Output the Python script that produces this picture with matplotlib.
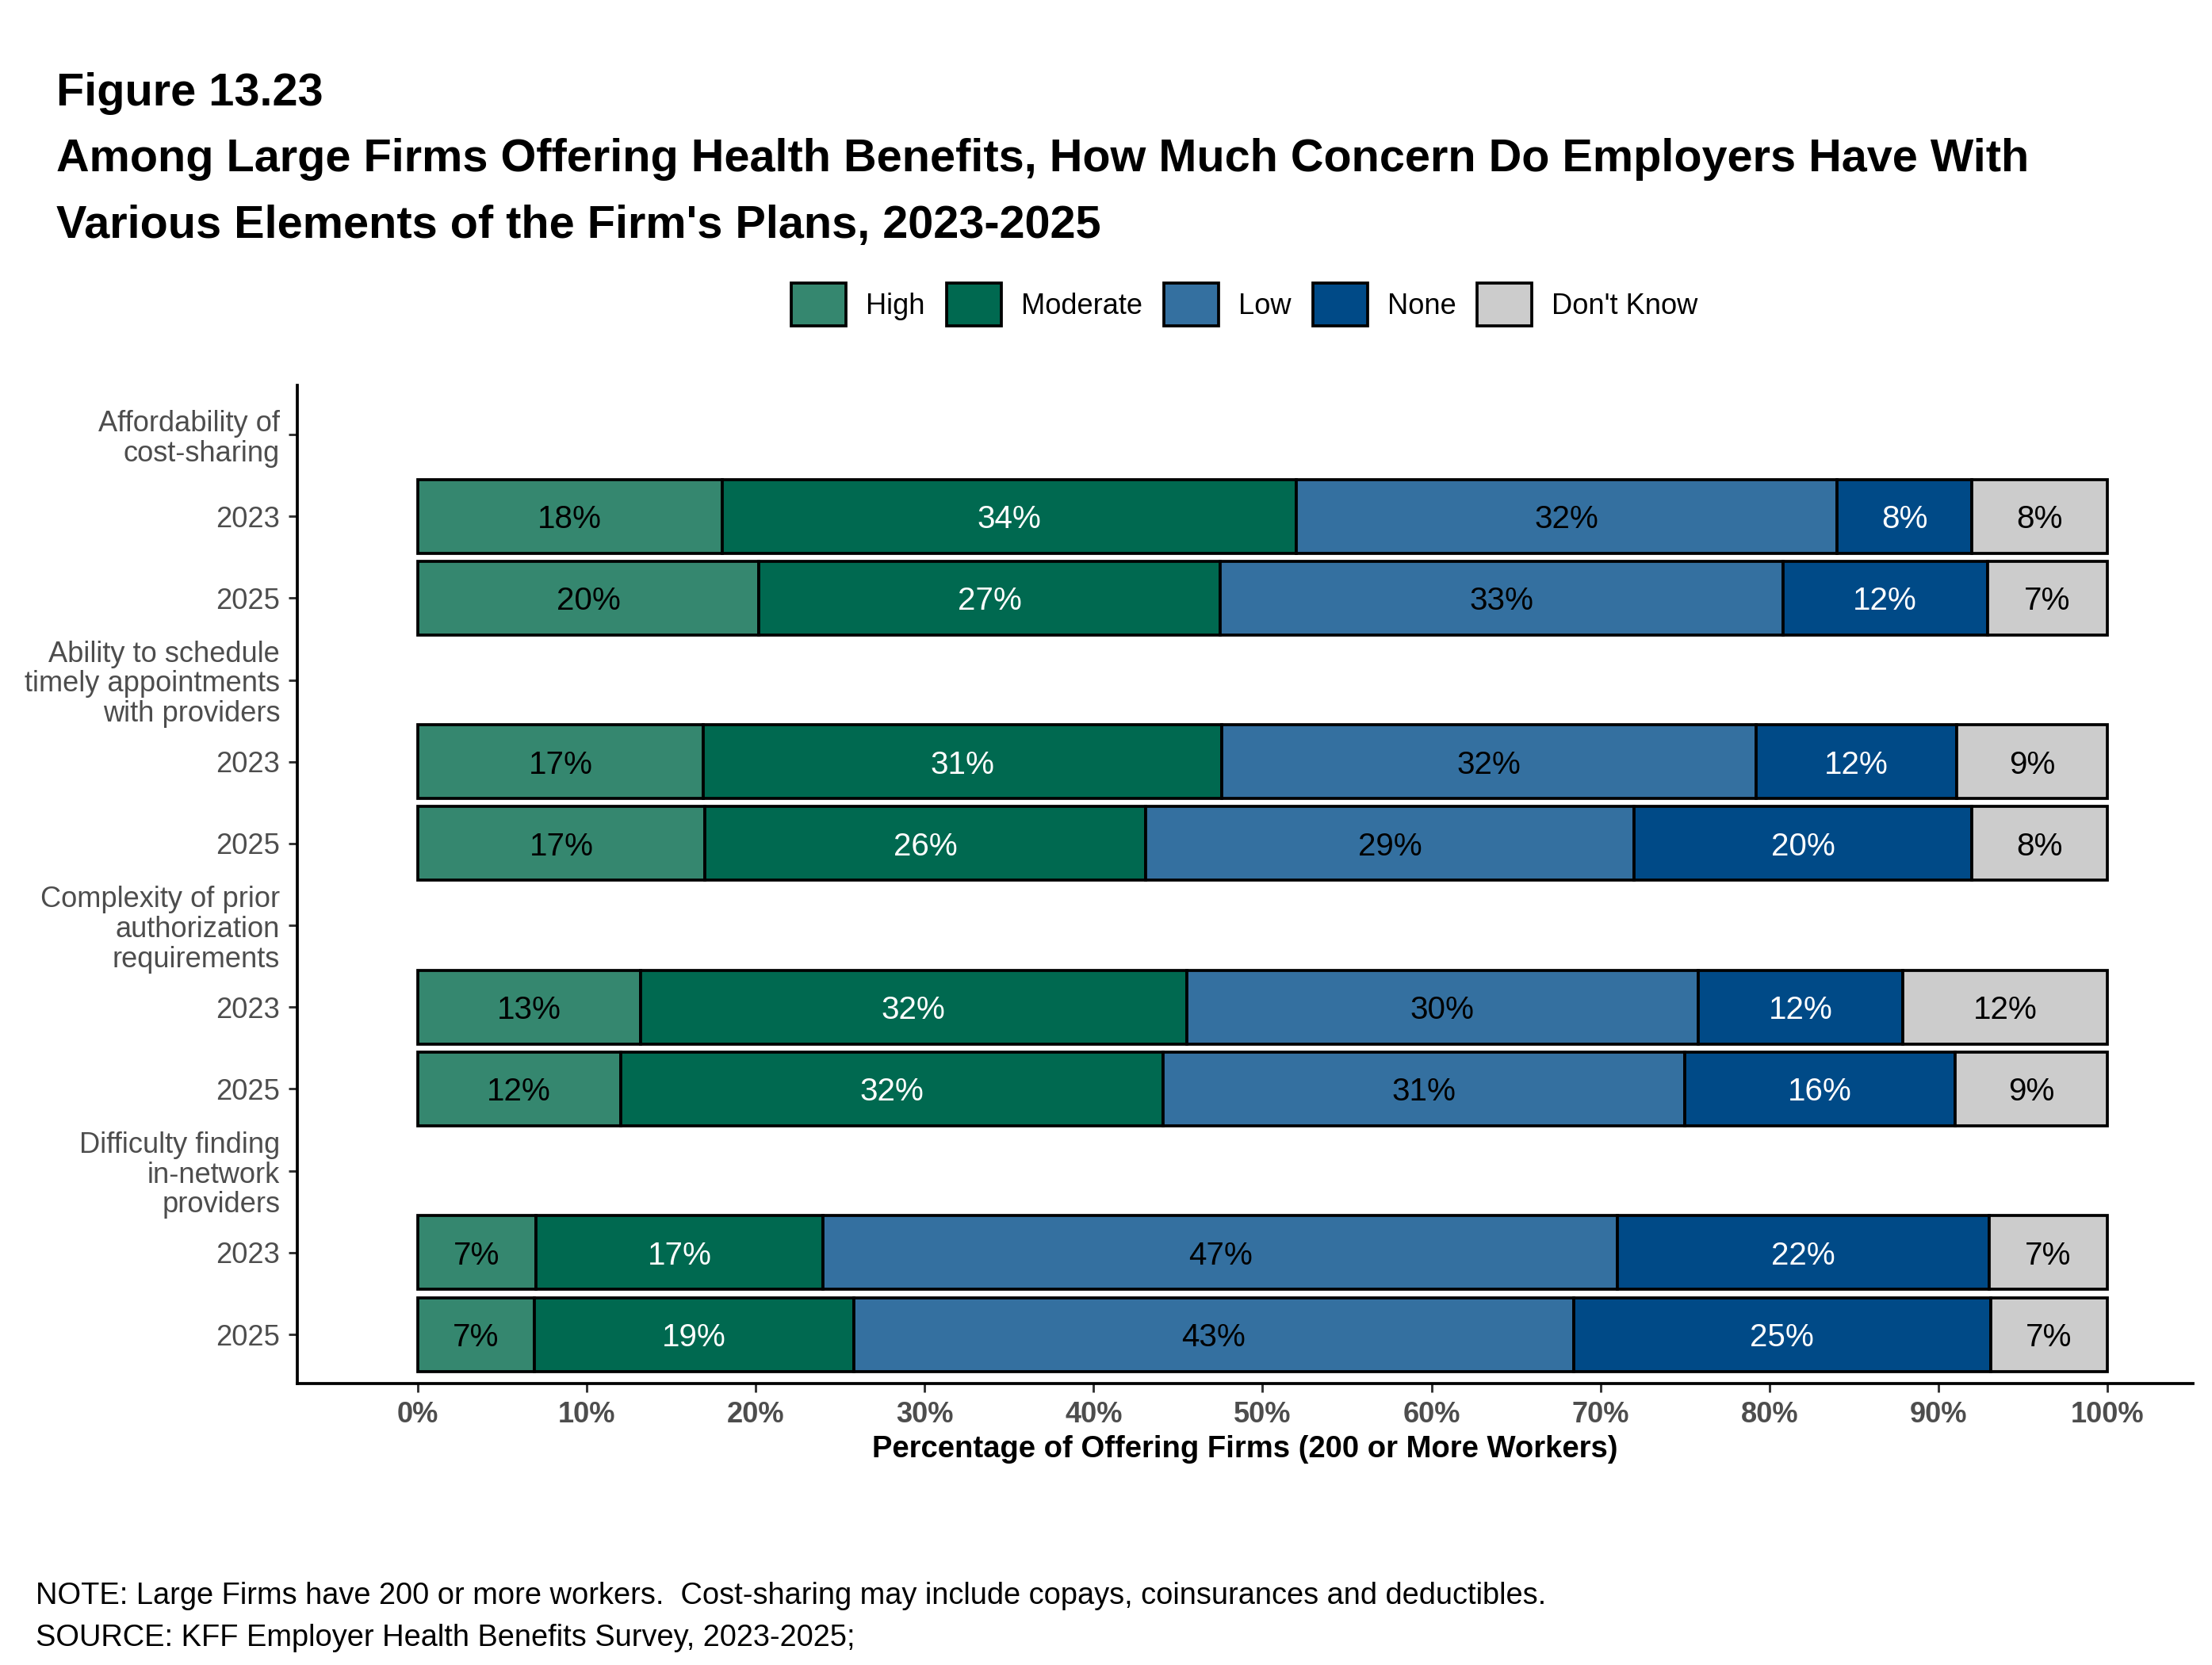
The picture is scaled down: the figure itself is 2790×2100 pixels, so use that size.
import matplotlib
matplotlib.use("Agg")
import matplotlib.pyplot as plt
from matplotlib.patches import Patch
import numpy as np

plt.rcParams['font.family'] = ['Liberation Sans', 'DejaVu Sans']

# Daten
groups = ["Affordability of\ncost-sharing",
          "Ability to schedule\ntimely appointments\nwith providers",
          "Complexity of prior\nauthorization\nrequirements",
          "Difficulty finding\nin-network\nproviders"]
years = ["2023", "2025"]
levels = ["High", "Moderate", "Low", "None", "Don't Know"]
colors = ["#35876F", "#006950", "#3470A0", "#004A87", "#CCCCCC"]
text_colors = ["black", "white", "black", "white", "black"]

high = [18.0, 20.2, 16.9, 17.0, 13.2, 12.0, 7.0, 6.9]
moderate = [34.0, 27.3, 30.7, 26.1, 32.3, 32.1, 17.0, 18.9]
low = [32.0, 33.3, 31.6, 28.9, 30.3, 30.9, 47.0, 42.6]
none = [8.0, 12.1, 11.9, 20.0, 12.1, 16.0, 22.0, 24.7]
dont_know = [8.0, 7.1, 8.9, 8.0, 12.1, 9.0, 7.0, 6.9]
labels = [[18, 20, 17, 17, 13, 12, 7, 7],
          [34, 27, 31, 26, 32, 32, 17, 19],
          [32, 33, 32, 29, 30, 31, 47, 43],
          [8, 12, 12, 20, 12, 16, 22, 25],
          [8, 7, 9, 8, 12, 9, 7, 7]]
series = [high, moderate, low, none, dont_know]

# Positionen: Gruppenzeile + 2 Jahre
tick_pos, tick_lab, bar_pos = [], [], []
p = 0
for g in groups:
    tick_pos.append(p); tick_lab.append(g)
    for yr in years:
        p += 1
        tick_pos.append(p); tick_lab.append(yr)
        bar_pos.append(p)
    p += 1

W, H = 2790, 2100
fig = plt.figure(figsize=(W / 300, H / 300), dpi=300)
ax = fig.add_axes([375 / W, 1 - 1745 / H, (2766 - 375) / W, (1745 - 486) / H])

left = np.zeros(len(bar_pos))
for vals, col, tc, lab in zip(series, colors, text_colors, labels):
    ax.barh(bar_pos, vals, left=left, height=0.9, color=col, edgecolor="black", linewidth=0.9)
    for y, v, l0, t in zip(bar_pos, vals, left, lab):
        ax.text(l0 + v / 2, y, f"{t}%", ha="center", va="center_baseline", color=tc, fontsize=9.7)
    left = left + np.array(vals)

ax.set_xlim(-7.13, 105.07)
ax.set_ylim(11.6, -0.6)
ax.set_xticks(np.arange(0, 101, 10))
ax.set_xticklabels([f"{v}%" for v in range(0, 101, 10)], fontweight="bold", color="#4D4D4D", fontsize=8.7)
ax.set_yticks(tick_pos)
ax.set_yticklabels(tick_lab, color="#4D4D4D", fontsize=8.7, linespacing=1.1)
ax.tick_params(axis="both", length=2.75, width=0.7, color="#333333", pad=2.5)
for s in ["top", "right"]:
    ax.spines[s].set_visible(False)
for s in ["left", "bottom"]:
    ax.spines[s].set_linewidth(0.9)
ax.set_xlabel("Percentage of Offering Firms (200 or More Workers)", fontweight="bold", fontsize=9.2, labelpad=2)

handles = [Patch(facecolor=c, edgecolor="black", linewidth=0.9) for c in colors]
fig.legend(handles, levels, loc="center", bbox_to_anchor=(1570 / W, 1 - 384 / H), ncol=5, frameon=False,
           fontsize=8.7, handlelength=1.9, handleheight=1.9, handletextpad=0.69, columnspacing=0.75)

fig.text(71 / W, 1 - 133 / H, "Figure 13.23", fontsize=13.85, fontweight="bold", va="baseline")
fig.text(71 / W, 1 - 216 / H, "Among Large Firms Offering Health Benefits, How Much Concern Do Employers Have With",
         fontsize=13.85, fontweight="bold", va="baseline")
fig.text(71 / W, 1 - 300 / H, "Various Elements of the Firm's Plans, 2023-2025", fontsize=13.85, fontweight="bold", va="baseline")

fig.text(45 / W, 1 - 2023 / H, "NOTE: Large Firms have 200 or more workers.  Cost-sharing may include copays, coinsurances and deductibles.",
         fontsize=9.13, va="baseline")
fig.text(45 / W, 1 - 2076 / H, "SOURCE: KFF Employer Health Benefits Survey, 2023-2025;", fontsize=9.13, va="baseline")

fig.savefig("out.png", dpi=300)
